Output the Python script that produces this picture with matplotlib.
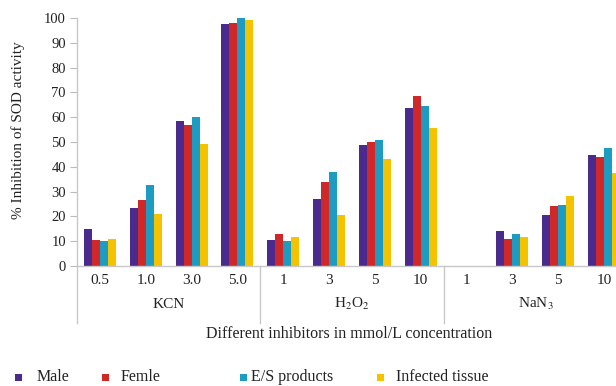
import matplotlib.pyplot as plt
from matplotlib.patches import Rectangle
import numpy as np

plt.rcParams['font.family'] = ['Liberation Serif', 'DejaVu Serif']
plt.rcParams['mathtext.fontset'] = 'stix'

# data
inhibitors = ['KCN', r'H$_2$O$_2$', r'NaN$_3$']
concentrations = ['0.5', '1.0', '3.0', '5.0', '1', '3', '5', '10', '1', '3', '5', '10']
series = ['Male', 'Femle', 'E/S products', 'Infected tissue']
male = [15, 23.5, 58.5, 97.5, 10.5, 27, 48.8, 63.6, 0, 14.2, 20.6, 44.6]
female = [10.5, 26.5, 57, 98, 13, 34, 49.9, 68.4, 0, 11, 24.1, 43.8]
es_products = [10, 32.5, 60, 100, 10, 37.9, 50.8, 64.7, 0, 12.8, 24.7, 47.7]
infected = [11, 21, 49, 99, 11.5, 20.6, 43.3, 55.8, 0, 11.7, 28.2, 37.6]
colors = ['#4a2a8c', '#d02828', '#1c9cc0', '#f5c200']

fig = plt.figure(figsize=(6.16, 3.86), dpi=100)
ax = fig.add_axes([77 / 616, 120 / 386, 550 / 616, 248 / 386])

x = np.arange(len(concentrations)) + 0.5
w = 0.175
for i, (vals, c) in enumerate(zip([male, female, es_products, infected], colors)):
    ax.bar(x + (i - 1.5) * w, vals, width=w, color=c, linewidth=0)

ax.set_xlim(0, 12)
ax.set_ylim(0, 100)
ax.set_yticks(range(0, 101, 10))
ax.tick_params(axis='y', labelsize=10.5, length=5, color='#bbbbbb', pad=3, colors='#222222')
ax.tick_params(axis='y', color='#bbbbbb')
ax.set_xticks([])
for s in ['top', 'right']:
    ax.spines[s].set_visible(False)
for s in ['left', 'bottom']:
    ax.spines[s].set_color('#c8c8c8')
    ax.spines[s].set_linewidth(1.0)

tr = ax.get_xaxis_transform()
for xi, lab in zip(x, concentrations):
    ax.text(xi, -0.06, lab, transform=tr, ha='center', va='center', fontsize=11, color='#222222')
for g, name in enumerate(inhibitors):
    ax.text(g * 4 + 2, -0.155, name, transform=tr, ha='center', va='center', fontsize=11, color='#222222')
    ax.plot([g * 4, g * 4], [0, -0.23], transform=tr, color='#c8c8c8', lw=1.0, clip_on=False)

fig.text(349 / 616, 1 - 334 / 386, 'Different inhibitors in mmol/L concentration',
         ha='center', va='center', fontsize=11.5, color='#222222')
fig.text(18 / 616, 1 - 130 / 386, '% Inhibition of SOD activity', rotation=90,
         ha='center', va='center', fontsize=11, color='#222222')

# legend drawn by hand along the bottom
sq = [18, 105, 243, 380]
tx = [37, 121, 251, 396]
for s_x, t_x, c, name in zip(sq, tx, colors, series):
    fig.add_artist(Rectangle(((s_x - 3.5) / 616, (386 - 377 - 3.5) / 386), 7 / 616, 7 / 386,
                             transform=fig.transFigure, color=c, lw=0))
    fig.text(t_x / 616, 1 - 377 / 386, name, ha='left', va='center', fontsize=11.5, color='#222222')

plt.savefig('out.png', dpi=100)
